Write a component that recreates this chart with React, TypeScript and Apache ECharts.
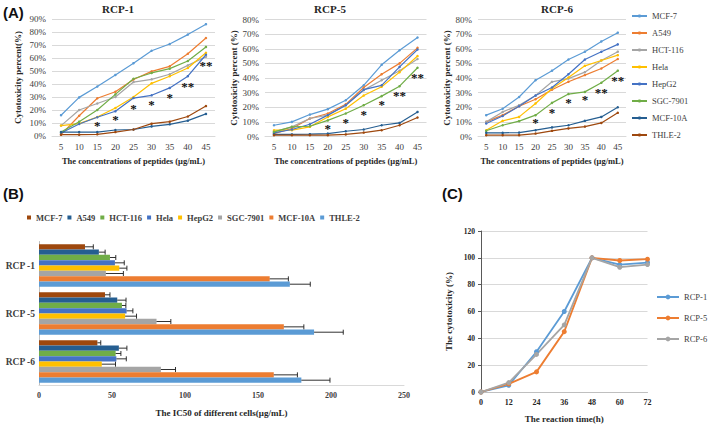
import React, { useEffect, useRef } from 'react';
import * as echarts from 'echarts';

// ---------- data ----------
const concentrations = ['5', '10', '15', '20', '25', '30', '35', '40', '45'];
const cellLines = ['MCF-7', 'A549', 'HCT-116', 'Hela', 'HepG2', 'SGC-7901', 'MCF-10A', 'THLE-2'];

// RCP-1 cytotoxicity (%)
const rcp1MCF7 = [16, 29.7, 38, 47, 56, 65.6, 70.8, 78, 86];
const rcp1A549 = [1, 15.6, 29, 34, 43.5, 49.7, 53.6, 63.3, 75.4];
const rcp1HCT116 = [8, 20, 25, 30, 41.5, 43.6, 47.5, 54.3, 61];
const rcp1Hela = [8, 9.5, 14.6, 21.5, 30, 40.5, 46, 52.3, 64];
const rcp1HepG2 = [2.3, 9.2, 14.4, 19, 29.2, 31.3, 37, 46, 62.5];
const rcp1SGC7901 = [3, 11, 20, 32, 44, 48.5, 51.8, 57.7, 68.5];
const rcp1MCF10A = [3, 3, 3, 4.6, 5, 7.4, 9, 11.8, 17];
const rcp1THLE2 = [1, 1, 1.3, 3, 5, 9.5, 11, 15, 23];

// RCP-5
const rcp5MCF7 = [7.7, 10, 15, 18.7, 24.8, 35, 49, 59, 67.7];
const rcp5A549 = [2, 5.5, 12.3, 15.7, 22, 33.5, 42.6, 50, 60.6];
const rcp5HCT116 = [3.2, 6.6, 12.3, 14.6, 21.4, 31.7, 38.5, 45, 53];
const rcp5Hela = [4.3, 4.3, 6.6, 13.4, 19, 28, 34, 44, 55];
const rcp5HepG2 = [2.5, 4.8, 8.4, 14.6, 21.4, 32, 35, 47.6, 59.5];
const rcp5SGC7901 = [3.2, 6.6, 7, 11, 15.7, 21.4, 27.6, 34.4, 47];
const rcp5MCF10A = [1.4, 1.4, 1.6, 2, 3.6, 4.8, 7.7, 9.3, 16.8];
const rcp5THLE2 = [0.9, 0.9, 0.9, 0.9, 1.4, 2.7, 4.3, 7.7, 13];

// RCP-6
const rcp6MCF7 = [14.6, 19, 27, 38.5, 45, 52.6, 58, 65, 71];
const rcp6A549 = [10, 14.6, 20.7, 25.5, 32, 37.4, 42, 46.5, 53];
const rcp6HCT116 = [10, 16.8, 21.4, 28, 37.4, 39.6, 44, 52, 58];
const rcp6Hela = [4.3, 10.7, 13.4, 22.6, 32.8, 40.3, 48.3, 52, 55.6];
const rcp6HepG2 = [8.9, 14, 20.7, 28, 33.5, 42.6, 52.6, 57.9, 63];
const rcp6SGC7901 = [3.9, 7.7, 10.5, 14.6, 23, 29, 30.5, 36.7, 45];
const rcp6MCF10A = [2.5, 2.5, 2.7, 4.3, 6.2, 7.7, 10.7, 13.4, 20];
const rcp6THLE2 = [0.9, 0.9, 0.9, 2, 3.9, 5.5, 6.8, 9.3, 16.2];

// significance marks (category index of concentration, y value, mark)
const rcp1StarX = ['15', '20', '25', '30', '35', '40', '45'];
const rcp1StarY = [9.5, 14, 23, 26, 31, 40, 56];
const rcp1StarText = ['*', '*', '*', '*', '*', '**', '**'];
const rcp5StarX = ['20', '25', '30', '35', '40', '45'];
const rcp5StarY = [6.6, 11, 16.4, 23, 29.4, 41.7];
const rcp5StarText = ['*', '*', '*', '*', '**', '**'];
const rcp6StarX = ['20', '25', '30', '35', '40', '45'];
const rcp6StarY = [11, 18, 24.8, 26.6, 31.7, 40];
const rcp6StarText = ['*', '*', '*', '*', '**', '**'];

// (B) IC50 values per cell line: [RCP -1, RCP -5, RCP -6]
const peptides = ['RCP -1', 'RCP -5', 'RCP -6'];
const ic50MCF7 = [31.5, 45.2, 40];
const ic50A549 = [41, 53.6, 54.7];
const ic50HCT116 = [48.6, 56.8, 52.5];
const ic50Hela = [52, 60, 53];
const ic50HepG2 = [55, 59, 43];
const ic50SGC7901 = [45.8, 80.5, 83.5];
const ic50MCF10A = [158, 167.7, 160.8];
const ic50THLE2 = [171.8, 188.4, 179.7];
const errMCF7 = [5.7, 3.4, 2.3];
const errA549 = [4.3, 6, 5.5];
const errHCT116 = [4, 2.7, 3.6];
const errHela = [6.4, 4.3, 6.8];
const errHepG2 = [5.2, 7.8, 9.4];
const errSGC7901 = [12, 9.8, 10];
const errMCF10A = [12.8, 13.7, 16.2];
const errTHLE2 = [14, 20, 19.6];

// (C) time course
const reactionTimes = [0, 12, 24, 36, 48, 60, 72];
const timeRCP1 = [0, 5, 30, 60, 100, 95, 96.5];
const timeRCP5 = [0, 6, 15, 45, 100, 98, 99];
const timeRCP6 = [0, 7, 28, 50, 100, 93, 95];

// ---------- styles ----------
const SERIF = '"Liberation Serif", "Times New Roman", serif';
const SANS = '"Liberation Sans", Arial, sans-serif';
const lineColors = ['#5B9BD5', '#ED7D31', '#A5A5A5', '#FFC000', '#4472C4', '#70AD47', '#255E91', '#9E480E'];
const barColors = ['#9E480E', '#255E91', '#70AD47', '#4472C4', '#FFC000', '#A5A5A5', '#ED7D31', '#5B9BD5'];
const timeColors = ['#5B9BD5', '#ED7D31', '#A5A5A5'];

function buildOption() {
  const panels = [
    {
      grid: { left: 52, top: 19, width: 163, height: 117 },
      max: 90,
      yName: 'Cytotoxicity percent(%)',
      yGap: 30,
      data: [rcp1MCF7, rcp1A549, rcp1HCT116, rcp1Hela, rcp1HepG2, rcp1SGC7901, rcp1MCF10A, rcp1THLE2],
      sx: rcp1StarX, sy: rcp1StarY, st: rcp1StarText,
    },
    {
      grid: { left: 265, top: 19.5, width: 161.5, height: 117 },
      max: 80,
      yName: 'Cytotoxicity percent (%)',
      yGap: 26,
      data: [rcp5MCF7, rcp5A549, rcp5HCT116, rcp5Hela, rcp5HepG2, rcp5SGC7901, rcp5MCF10A, rcp5THLE2],
      sx: rcp5StarX, sy: rcp5StarY, st: rcp5StarText,
    },
    {
      grid: { left: 478, top: 19.5, width: 148, height: 117 },
      max: 80,
      yName: 'Cytotoxicity percent (%)',
      yGap: 27,
      data: [rcp6MCF7, rcp6A549, rcp6HCT116, rcp6Hela, rcp6HepG2, rcp6SGC7901, rcp6MCF10A, rcp6THLE2],
      sx: rcp6StarX, sy: rcp6StarY, st: rcp6StarText,
    },
  ];

  const grid: any[] = [];
  const xAxis: any[] = [];
  const yAxis: any[] = [];
  const series: any[] = [];

  panels.forEach((p, gi) => {
    grid.push({ ...p.grid, containLabel: false });
    xAxis.push({
      type: 'category',
      gridIndex: gi,
      data: concentrations,
      boundaryGap: true,
      axisLine: { lineStyle: { color: '#D9D9D9' } },
      axisTick: { show: false },
      axisLabel: { fontFamily: SERIF, fontSize: 9, color: '#404040', margin: 6 },
      name: 'The concentrations of peptides (μg/mL)',
      nameLocation: 'middle',
      nameGap: 20,
      nameTextStyle: { fontFamily: SERIF, fontWeight: 'bold', fontSize: 8.5, color: '#262626' },
    });
    yAxis.push({
      type: 'value',
      gridIndex: gi,
      min: 0,
      max: p.max,
      interval: 10,
      axisLine: { show: false },
      axisTick: { show: false },
      splitLine: { lineStyle: { color: '#D9D9D9', width: 1 } },
      axisLabel: { fontFamily: SERIF, fontSize: 9, color: '#404040', formatter: '{value}%', margin: 6 },
      name: p.yName,
      nameLocation: 'middle',
      nameGap: p.yGap,
      nameRotate: 90,
      nameTextStyle: { fontFamily: SERIF, fontWeight: 'bold', fontSize: 9, color: '#262626' },
    });
    p.data.forEach((vals, si) => {
      series.push({
        type: 'line',
        name: cellLines[si],
        xAxisIndex: gi,
        yAxisIndex: gi,
        data: vals,
        symbol: 'circle',
        symbolSize: 2.5,
        showSymbol: true,
        lineStyle: { width: 1.2, color: lineColors[si] },
        itemStyle: { color: lineColors[si] },
        z: 3,
      });
    });
    const marks = p.st;
    series.push({
      type: 'custom',
      name: 'sig' + gi,
      xAxisIndex: gi,
      yAxisIndex: gi,
      data: p.sx.map((x, i) => [concentrations.indexOf(x), p.sy[i]]),
      encode: { x: 0, y: 1 },
      silent: true,
      z: 4,
      renderItem: (params: any, api: any) => {
        const c = api.coord([api.value(0), api.value(1)]);
        return {
          type: 'text',
          x: c[0],
          y: c[1] + 2,
          style: {
            text: marks[params.dataIndex],
            fill: '#111',
            fontFamily: SERIF,
            fontWeight: 'bold',
            fontSize: 13,
            align: 'center',
            verticalAlign: 'middle',
          },
        };
      },
    });
  });

  // (B) horizontal bars
  const gB = grid.length;
  grid.push({ left: 39, top: 241.5, width: 365, height: 144, containLabel: false });
  xAxis.push({
    type: 'value',
    gridIndex: gB,
    min: 0,
    max: 250,
    interval: 50,
    axisLine: { show: true, lineStyle: { color: '#D9D9D9' } },
    axisTick: { show: false },
    splitLine: { show: false },
    axisLabel: { fontFamily: SERIF, fontWeight: 'bold', fontSize: 8, color: '#404040', margin: 6 },
    name: 'The IC50 of different cells(μg/mL)',
    nameLocation: 'middle',
    nameGap: 23,
    nameTextStyle: { fontFamily: SERIF, fontWeight: 'bold', fontSize: 9, color: '#262626' },
  });
  yAxis.push({
    type: 'category',
    gridIndex: gB,
    data: peptides,
    inverse: true,
    axisLine: { show: true, lineStyle: { color: '#BFBFBF' } },
    axisTick: { show: false },
    axisLabel: { fontFamily: SERIF, fontWeight: 'bold', fontSize: 9.5, color: '#404040', margin: 4 },
  });
  const ic50 = [ic50MCF7, ic50A549, ic50HCT116, ic50Hela, ic50HepG2, ic50SGC7901, ic50MCF10A, ic50THLE2];
  const errs = [errMCF7, errA549, errHCT116, errHela, errHepG2, errSGC7901, errMCF10A, errTHLE2];
  const catGap = 0.11;
  ic50.forEach((vals, si) => {
    series.push({
      type: 'bar',
      name: cellLines[si],
      xAxisIndex: gB,
      yAxisIndex: gB,
      data: vals,
      barCategoryGap: catGap * 100 + '%',
      barGap: '0%',
      itemStyle: { color: barColors[si] },
    });
  });
  const errData: any[] = [];
  ic50.forEach((vals, si) => {
    vals.forEach((v, ci) => errData.push([v, ci, errs[si][ci], si]));
  });
  series.push({
    type: 'custom',
    name: 'errorbars',
    xAxisIndex: gB,
    yAxisIndex: gB,
    data: errData,
    encode: { x: 0, y: 1 },
    silent: true,
    z: 5,
    renderItem: (params: any, api: any) => {
      const v = api.value(0);
      const cat = api.value(1);
      const e = api.value(2);
      const si = api.value(3);
      const p0 = api.coord([v, cat]);
      const p1 = api.coord([v + e, cat]);
      const band = Math.abs(api.size([0, 1])[1]);
      const inner = band * (1 - catGap);
      const bw = inner / 8;
      const y = p0[1] - inner / 2 + (si + 0.5) * bw;
      const cap = 5;
      const st = { stroke: '#1a1a1a', lineWidth: 0.9 };
      return {
        type: 'group',
        children: [
          { type: 'line', shape: { x1: p0[0], y1: y, x2: p1[0], y2: y }, style: st },
          { type: 'line', shape: { x1: p1[0], y1: y - cap / 2, x2: p1[0], y2: y + cap / 2 }, style: st },
        ],
      };
    },
  });

  // (C) time course
  const gC = grid.length;
  grid.push({ left: 481, top: 231, width: 166.5, height: 161, containLabel: false });
  xAxis.push({
    type: 'value',
    gridIndex: gC,
    min: 0,
    max: 72,
    interval: 12,
    axisLine: { show: true, lineStyle: { color: '#BFBFBF' } },
    axisTick: { show: false },
    splitLine: { show: false },
    axisLabel: { fontFamily: SERIF, fontWeight: 'bold', fontSize: 8, color: '#262626', margin: 6 },
    name: 'The reaction time(h)',
    nameLocation: 'middle',
    nameGap: 22,
    nameTextStyle: { fontFamily: SERIF, fontWeight: 'bold', fontSize: 9, color: '#262626' },
  });
  yAxis.push({
    type: 'value',
    gridIndex: gC,
    min: 0,
    max: 120,
    interval: 20,
    axisLine: { show: true, lineStyle: { color: '#595959' } },
    axisTick: { show: true, length: 3, lineStyle: { color: '#595959' } },
    splitLine: { lineStyle: { color: '#D9D9D9' } },
    axisLabel: { fontFamily: SERIF, fontWeight: 'bold', fontSize: 7.5, color: '#262626', margin: 6 },
    name: 'The cytotoxicity (%)',
    nameLocation: 'middle',
    nameGap: 28,
    nameRotate: 90,
    nameTextStyle: { fontFamily: SERIF, fontWeight: 'bold', fontSize: 9, color: '#262626' },
  });
  const timeNames = ['RCP-1', 'RCP-5', 'RCP-6'];
  [timeRCP1, timeRCP5, timeRCP6].forEach((vals, si) => {
    series.push({
      type: 'line',
      name: timeNames[si],
      xAxisIndex: gC,
      yAxisIndex: gC,
      data: reactionTimes.map((t, i) => [t, vals[i]]),
      symbol: 'circle',
      symbolSize: 5,
      lineStyle: { width: 1.8, color: timeColors[si] },
      itemStyle: { color: timeColors[si] },
    });
  });

  const legendText = { fontFamily: SERIF, fontSize: 8.5, color: '#404040' };

  return {
    animation: false,
    backgroundColor: '#ffffff',
    grid,
    xAxis,
    yAxis,
    series,
    legend: [
      {
        orient: 'vertical',
        left: 626,
        top: 6,
        itemWidth: 15,
        itemHeight: 4,
        itemGap: 7,
        data: cellLines,
        textStyle: { ...legendText, lineHeight: 10 },
        selectedMode: false,
      },
      {
        orient: 'horizontal',
        left: 22,
        top: 208,
        itemWidth: 4,
        itemHeight: 4,
        itemGap: 5,
        icon: 'rect',
        data: cellLines.map((n, i) => ({
          name: n,
          icon: 'rect',
          itemStyle: { color: barColors[i], borderColor: barColors[i], borderWidth: 0 },
        })),
        textStyle: { fontFamily: SERIF, fontWeight: 'bold', fontSize: 8.5, color: '#404040' },
        selectedMode: false,
      },
      {
        orient: 'vertical',
        left: 651,
        top: 287,
        itemWidth: 22,
        itemHeight: 6,
        itemGap: 11,
        data: timeNames,
        textStyle: { ...legendText, lineHeight: 10 },
        selectedMode: false,
      },
    ],
    graphic: [
      { type: 'text', x: 3, y: 5, style: { text: '(A)', fontFamily: SANS, fontWeight: 'bold', fontSize: 15, fill: '#111' } },
      { type: 'text', x: 3, y: 186, style: { text: '(B)', fontFamily: SANS, fontWeight: 'bold', fontSize: 15, fill: '#111' } },
      { type: 'text', x: 442, y: 186, style: { text: '(C)', fontFamily: SANS, fontWeight: 'bold', fontSize: 15, fill: '#111' } },
      { type: 'text', x: 118, y: 9, style: { text: 'RCP-1', fontFamily: SERIF, fontWeight: 'bold', fontSize: 11, fill: '#262626', align: 'center', verticalAlign: 'middle' } },
      { type: 'text', x: 330, y: 9, style: { text: 'RCP-5', fontFamily: SERIF, fontWeight: 'bold', fontSize: 11, fill: '#262626', align: 'center', verticalAlign: 'middle' } },
      { type: 'text', x: 557, y: 9, style: { text: 'RCP-6', fontFamily: SERIF, fontWeight: 'bold', fontSize: 11, fill: '#262626', align: 'center', verticalAlign: 'middle' } },
    ],
  };
}

export default function App() {
  const ref = useRef<HTMLDivElement>(null);
  useEffect(() => {
    if (!ref.current) return;
    const chart = echarts.init(ref.current, null, { renderer: 'svg' });
    chart.setOption(buildOption() as any);
    return () => chart.dispose();
  }, []);
  return (
    <div
      ref={ref}
      style={{ position: 'absolute', left: 0, top: 0, width: 709, height: 426, background: '#fff' }}
    />
  );
}
